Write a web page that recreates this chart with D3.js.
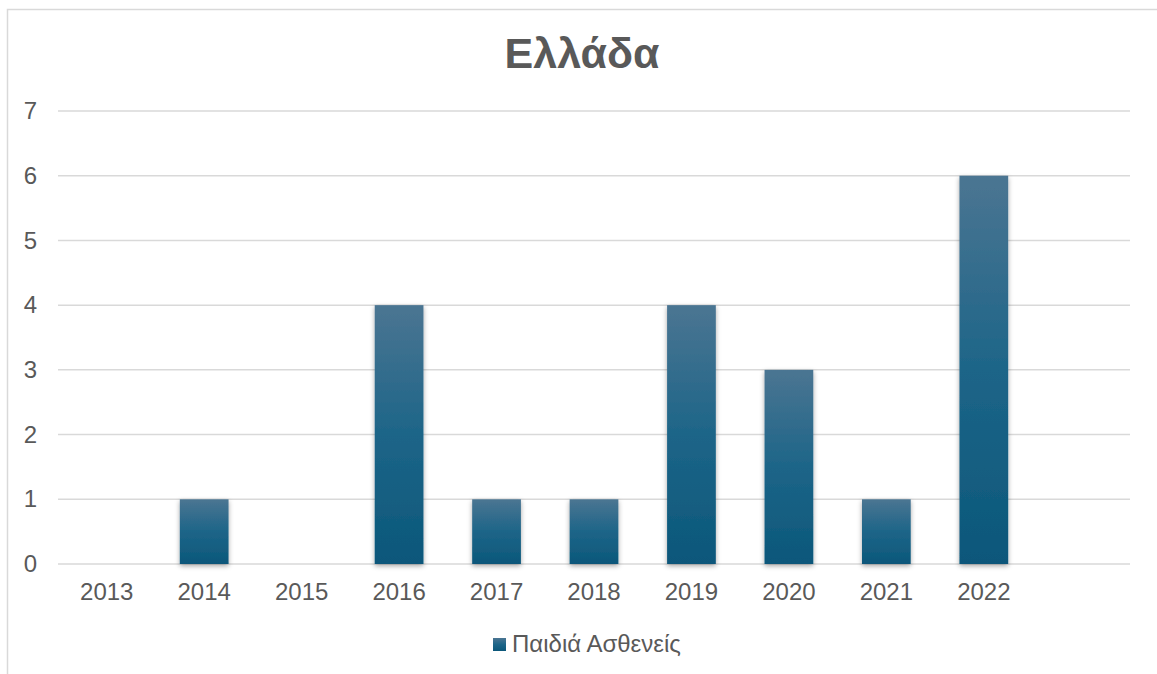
<!DOCTYPE html>
<html>
<head>
<meta charset="utf-8">
<script src="https://cdn.jsdelivr.net/npm/d3@7"></script>
<style>
  html, body { margin: 0; padding: 0; background: #fff; }
  svg { display: block; font-family: "Liberation Sans", Arial, sans-serif; }
</style>
</head>
<body>
<svg id="chart" width="1157" height="674"></svg>
<script>
// Yearly counts for Greece; the last slot on the axis is left empty
const years = ["2013", "2014", "2015", "2016", "2017", "2018", "2019", "2020", "2021", "2022", ""];
const patients = [0, 1, 0, 4, 1, 1, 4, 3, 1, 6, null];
const yTicks = [0, 1, 2, 3, 4, 5, 6, 7];
const titleText = "Ελλάδα";
const seriesName = "Παιδιά Ασθενείς";

const svg = d3.select("#chart");
const W = 1157, H = 674;
const plot = { left: 58, right: 1130, top: 111, bottom: 564 };
const textColor = "#595959";
const gridColor = "#d9d9d9";

// chart frame
svg.append("rect")
  .attr("x", 7.5).attr("y", 9.5)
  .attr("width", W + 20).attr("height", H + 20)
  .attr("fill", "#fff")
  .attr("stroke", gridColor).attr("stroke-width", 1.5);

const defs = svg.append("defs");
const grad = defs.append("linearGradient")
  .attr("id", "barFill")
  .attr("x1", 0).attr("y1", 0).attr("x2", 0).attr("y2", 1);
grad.append("stop").attr("offset", "0%").attr("stop-color", "#4b7592");
grad.append("stop").attr("offset", "50%").attr("stop-color", "#1d6588");
grad.append("stop").attr("offset", "100%").attr("stop-color", "#0b577a");

const shadow = defs.append("filter")
  .attr("id", "barShadow")
  .attr("x", "-30%").attr("y", "-10%").attr("width", "160%").attr("height", "130%");
shadow.append("feDropShadow")
  .attr("dx", 0).attr("dy", 2).attr("stdDeviation", 2.5)
  .attr("flood-color", "#000").attr("flood-opacity", 0.35);

const x = d3.scaleBand()
  .domain(years.map((d, i) => i))
  .range([plot.left, plot.right])
  .paddingInner(0.5).paddingOuter(0.25);

const y = d3.scaleLinear()
  .domain([0, 7])
  .range([plot.bottom, plot.top]);

// horizontal gridlines
svg.append("g")
  .selectAll("line")
  .data(yTicks)
  .join("line")
  .attr("x1", plot.left).attr("x2", plot.right)
  .attr("y1", d => y(d)).attr("y2", d => y(d))
  .attr("stroke", gridColor).attr("stroke-width", 1.5);

// y axis labels
const yAxis = svg.append("g")
  .attr("transform", `translate(${plot.left},0)`)
  .call(d3.axisLeft(y).tickValues(yTicks).tickSize(0).tickPadding(21).tickFormat(d3.format("d")));
yAxis.select(".domain").remove();
yAxis.selectAll("text")
  .attr("fill", textColor).attr("font-size", 24)
  .attr("font-family", "Liberation Sans, Arial, sans-serif");

// x axis labels
const xAxis = svg.append("g")
  .attr("transform", `translate(0,${plot.bottom})`)
  .call(d3.axisBottom(x).tickSize(0).tickPadding(19).tickFormat(i => years[i]));
xAxis.select(".domain").remove();
xAxis.selectAll("text")
  .attr("fill", textColor).attr("font-size", 24)
  .attr("font-family", "Liberation Sans, Arial, sans-serif");

// bars
svg.append("g")
  .selectAll("rect")
  .data(patients.map((v, i) => ({ i, v })).filter(d => d.v))
  .join("rect")
  .attr("x", d => x(d.i))
  .attr("width", x.bandwidth())
  .attr("y", d => y(d.v))
  .attr("height", d => y(0) - y(d.v))
  .attr("fill", "url(#barFill)")
  .attr("filter", "url(#barShadow)");

// title
svg.append("text")
  .attr("x", (7 + W) / 2).attr("y", 68)
  .attr("text-anchor", "middle")
  .attr("font-size", 43).attr("font-weight", "bold")
  .attr("fill", textColor)
  .text(titleText);

// legend
const legend = svg.append("g").attr("transform", "translate(493,638)");
legend.append("rect")
  .attr("width", 13).attr("height", 13)
  .attr("fill", "url(#barFill)");
legend.append("text")
  .attr("x", 19).attr("y", 14)
  .attr("font-size", 24).attr("fill", textColor)
  .text(seriesName);
</script>
</body>
</html>
